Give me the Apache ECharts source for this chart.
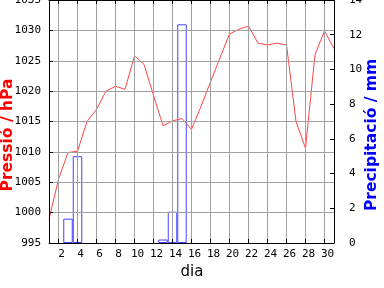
<!DOCTYPE html>
<html><head><meta charset="utf-8">
<script src="https://cdn.jsdelivr.net/npm/echarts@6/dist/echarts.min.js"></script>
<style>html,body{margin:0;padding:0;background:#fff}#c{width:384px;height:288px}</style>
</head><body><div id="c"></div>
<script>
const days = [1,2,3,4,5,6,7,8,9,10,11,12,13,14,15,16,17,18,19,20,21,22,23,24,25,26,27,28,29,30,31];
const pressure = [998.9,1005.5,1009.9,1010.1,1015.0,1017.0,1020.0,1020.8,1020.3,1025.8,1024.4,1019.3,1014.3,1015.1,1015.5,1013.7,1017.5,1021.5,1025.5,1029.4,1030.2,1030.7,1027.9,1027.6,1027.9,1027.6,1015.0,1010.6,1026.0,1029.9,1027.0];
const precipDays = [3,4,13,14,15];
const precipValues = [1.4,5.0,0.2,1.8,12.6];
const xTicks = [2,4,6,8,10,12,14,16,18,20,22,24,26,28,30];
const leftName = 'Pressió / hPa';
const rightName = 'Precipitació / mm';
const xName = 'dia';

const chart = echarts.init(document.getElementById('c'), null, {renderer:'canvas'});
const tickFont = {fontFamily:'DejaVu Sans Mono', fontSize:11, color:'#000'};
const nameFont = 'DejaVu Sans';
chart.setOption({
  animation:false,
  backgroundColor:'#fff',
  grid:{left:49, right:50, top:0, bottom:45, containLabel:false, outerBoundsMode:'none'},
  xAxis:[{
    type:'value', min:1, max:31, position:'bottom', z:5,
    axisLine:{show:true, onZero:false, lineStyle:{color:'#000', width:1}},
    axisTick:{show:true, inside:true, length:4, customValues:xTicks, lineStyle:{color:'#000'}},
    axisLabel:Object.assign({customValues:xTicks, margin:6, padding:[0,0,0,6]}, tickFont),
    splitLine:{show:true, lineStyle:{color:'#a0a0a0', width:1}}
  },{
    type:'value', min:1, max:31, position:'top', z:5,
    axisLine:{show:true, onZero:false, lineStyle:{color:'#000'}},
    axisTick:{show:true, inside:true, length:4, customValues:xTicks, lineStyle:{color:'#000'}},
    axisLabel:{show:false}, splitLine:{show:false}
  }],
  yAxis:[{
    type:'value', min:995, max:1035, interval:5, position:'left', z:5,
    axisLine:{show:true, onZero:false, lineStyle:{color:'#000'}},
    axisTick:{show:true, inside:true, length:4, lineStyle:{color:'#000'}},
    axisLabel:Object.assign({margin:8, formatter:v=>String(v)}, tickFont),
    splitLine:{show:true, lineStyle:{color:'#a0a0a0', width:1}}
  },{
    type:'value', min:0, max:14, interval:2, position:'right', z:5,
    axisLine:{show:true, onZero:false, lineStyle:{color:'#000'}},
    axisTick:{show:true, inside:true, length:4, lineStyle:{color:'#000'}},
    axisLabel:Object.assign({margin:15, formatter:v=>String(v)}, tickFont),
    splitLine:{show:false}
  }],
  graphic:[
    {type:'text', x:8, y:135, rotation:Math.PI/2,
     style:{text:leftName, fill:'#ff0000', font:'bold 15.5px "'+nameFont+'"', align:'center', verticalAlign:'middle'}},
    {type:'text', x:372, y:135, rotation:Math.PI/2,
     style:{text:rightName, fill:'#0000ff', font:'bold 15.5px "'+nameFont+'"', align:'center', verticalAlign:'middle'}},
    {type:'text', x:192, y:272,
     style:{text:xName, fill:'#000', font:'15px "'+nameFont+'"', align:'center', verticalAlign:'middle'}}
  ],
  series:[{
    type:'bar', xAxisIndex:0, yAxisIndex:1, barWidth:9.5, z:2,
    data: precipDays.map((d,i)=>[d, precipValues[i]]),
    itemStyle:{color:'rgba(0,0,0,0)', borderColor:'#4444ff', borderWidth:1},
    silent:true
  },{
    type:'line', xAxisIndex:0, yAxisIndex:0, symbol:'none', z:3,
    data: days.map((d,i)=>[d, pressure[i]]),
    lineStyle:{color:'#ff4444', width:1}, silent:true
  }]
});
</script></body></html>
